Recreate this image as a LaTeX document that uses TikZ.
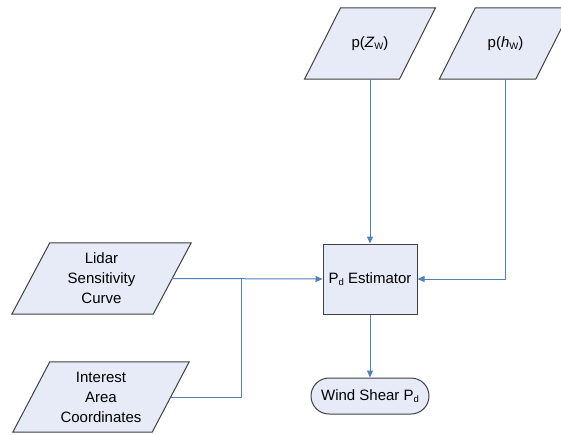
\documentclass[tikz,border=0pt]{standalone}
\usepackage{fontspec}
\setmainfont{Liberation Sans}
\usetikzlibrary{arrows.meta,backgrounds,positioning}
\definecolor{boxfill}{RGB}{230,235,247}
\definecolor{boxline}{RGB}{64,64,64}
\definecolor{conn}{RGB}{79,129,189}
\newcommand\mysub[1]{\raisebox{-0.25ex}{\fontsize{9.5}{9.5}\selectfont #1}}
\newcommand\paraframe[2]{%
  \draw[iobox] ([xshift=#2]#1.north west) -- ([xshift=#2]#1.north east)
    -- ([xshift=-#2]#1.south east) -- ([xshift=-#2]#1.south west) -- cycle;}
\tikzset{
  txt/.style={inner sep=0pt, align=center, font=\fontsize{15}{20}\selectfont},
  iobox/.style={draw=boxline, fill=boxfill, line width=1pt},
  iotext/.style={txt, minimum height=71pt},
  procbox/.style={txt, draw=boxline, fill=boxfill, line width=1pt, minimum width=94pt, minimum height=70pt},
  termbox/.style={txt, draw=boxline, fill=boxfill, line width=1pt, minimum width=118pt, minimum height=36pt, rounded corners=18pt},
  link/.style={draw=conn, line width=1pt},
  arr/.style={link, -{Triangle[length=7pt,width=6pt]}}
}
\begin{document}
\begin{tikzpicture}[x=1pt,y=-1pt]
\useasboundingbox (0,0) rectangle (561,434);
\node[iotext, minimum width=94.5pt] (zw) at (370,43.5) {p(\textit{Z}\mysub{W})};
\node[iotext, minimum width=96pt] (hw) at (505.5,43.5) {p(\textit{h}\mysub{W})};
\node[iotext, minimum width=141pt] (lidar) at (101.5,278.5) {Lidar\\Sensitivity\\Curve};
\node[iotext, minimum width=139pt, minimum height=70pt] (area) at (101,397) {Interest\\Area\\Coordinates};
\node[procbox] (est) at (370,279) {P\mysub{d} Estimator};
\node[termbox] (ws) at (370,396) {Wind Shear P\mysub{d}};
\coordinate (j) at (241,279);
\begin{scope}[on background layer]
  \paraframe{zw}{18pt}
  \paraframe{hw}{18pt}
  \paraframe{lidar}{19pt}
  \paraframe{area}{18.5pt}
\end{scope}
\draw[arr] (zw.south) -- (est.north);
\draw[arr] (hw.south) |- (est.east);
\draw[arr] (lidar.east) -- (est.west);
\draw[link] (area.east) -| (j);
\draw[arr] (est.south) -- (ws.north);
\end{tikzpicture}
\end{document}
